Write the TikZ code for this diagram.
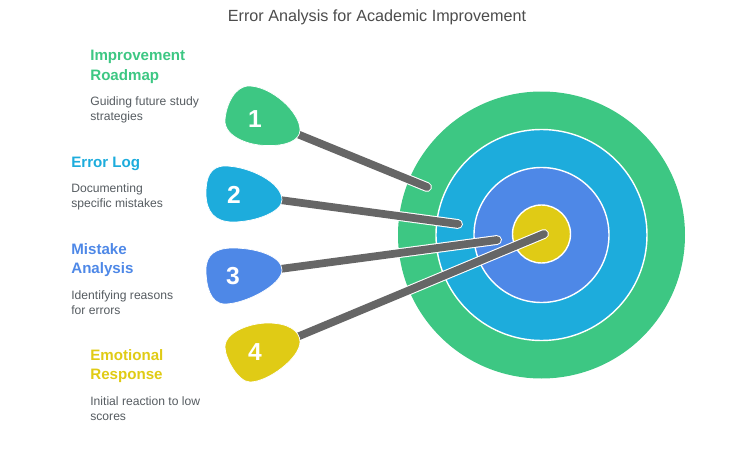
\documentclass[tikz,border=0pt]{standalone}
\usepackage{fontspec}
\setmainfont{Liberation Sans}
\definecolor{ringgreen}{HTML}{3DC783}
\definecolor{ringblue}{HTML}{1DACDC}
\definecolor{ringperi}{HTML}{4E88E7}
\definecolor{ringyellow}{HTML}{E0CB15}
\definecolor{stickgray}{HTML}{666666}
\definecolor{bodygray}{HTML}{555B60}
\tikzset{
	ring/.style = {draw=white, line width=0.8pt},
	blob/.style = {draw=white, line width=0.4pt},
	stick/.style = {draw=white, line width=0.6pt, double=stickgray, double distance=4.4pt, line cap=round},
	number/.style = {text=white, font=\fontsize{14}{14}\selectfont\bfseries},
	heading/.style = {anchor=west, inner sep=0pt, align=left, font=\fontsize{8.6}{11}\selectfont\bfseries},
	body/.style = {anchor=west, inner sep=0pt, align=left, text=bodygray, font=\fontsize{6.9}{8.5}\selectfont}
}
\begin{document}
\begin{tikzpicture} [x=0.02cm, y=-0.02cm]
	\useasboundingbox (0,0) rectangle (752,453);
	\node[inner sep=0pt, text=black!70, font=\fontsize{9.2}{11}\selectfont] (title) at (377,17.5) {Error Analysis for Academic Improvement};
	% target
	\fill[ringgreen] (541.5,235) circle (143.5);
	\draw[ring, fill=ringblue] (541.5,235) circle (105.5);
	\draw[ring, fill=ringperi] (541.5,235) circle (67.5);
	\draw[ring, fill=ringyellow] (541.5,234) circle (29);
	% sticks
	\coordinate (start1) at (285,129);
	\coordinate (end1) at (427,187);
	\coordinate (start2) at (265,198);
	\coordinate (end2) at (458,224);
	\coordinate (start3) at (265,271);
	\coordinate (end3) at (497,240);
	\coordinate (start4) at (285,342);
	\coordinate (end4) at (544,234);
	\draw[stick] (start1) -- (end1);
	\draw[stick] (start2) -- (end2);
	\draw[stick] (start3) -- (end3);
	\draw[stick] (start4) -- (end4);
	% blobs
	\draw[blob, fill=ringgreen] (250,86) .. controls (272,87) and (300,112) .. (300,130) .. controls (300,141) and (285,146) .. (268,145.5) .. controls (250,146) and (224,137) .. (225,120) .. controls (226,105) and (235,85) .. (250,86) -- cycle;
	\draw[blob, fill=ringblue] (225,166) .. controls (248,166) and (282,182) .. (282,200) .. controls (282,212) and (255,222) .. (233,222) .. controls (215,222) and (206,212) .. (206,193) .. controls (206,178) and (210,166) .. (225,166) -- cycle;
	\draw[blob, fill=ringperi] (233,248) .. controls (256,248) and (282,256) .. (282,270) .. controls (282,285) and (245,304) .. (225,304) .. controls (210,304) and (206,285) .. (206,270) .. controls (206,255) and (215,248) .. (233,248) -- cycle;
	\draw[blob, fill=ringyellow] (268,323) .. controls (287,323) and (300,330) .. (300,342) .. controls (300,358) and (268,382) .. (250,382) .. controls (238,382) and (225,358) .. (225,347) .. controls (225,332) and (250,323) .. (268,323) -- cycle;
	\node[number] (num1) at (255,119) {1};
	\node[number] (num2) at (234,195) {2};
	\node[number] (num3) at (233,276) {3};
	\node[number] (num4) at (255,352) {4};
	% labels
	\node[heading, text=ringgreen] (head1) at (90,67) {Improvement\\Roadmap};
	\node[body] (text1) at (90,109.5) {Guiding future study\\strategies};
	\node[heading, text=ringblue] (head2) at (71,163.5) {Error Log};
	\node[body] (text2) at (71,196.5) {Documenting\\specific mistakes};
	\node[heading, text=ringperi] (head3) at (71,260) {Mistake\\Analysis};
	\node[body] (text3) at (71,302.5) {Identifying reasons\\for errors};
	\node[heading, text=ringyellow] (head4) at (90,366) {Emotional\\Response};
	\node[body] (text4) at (90,408.5) {Initial reaction to low\\scores};
\end{tikzpicture}
\end{document}
